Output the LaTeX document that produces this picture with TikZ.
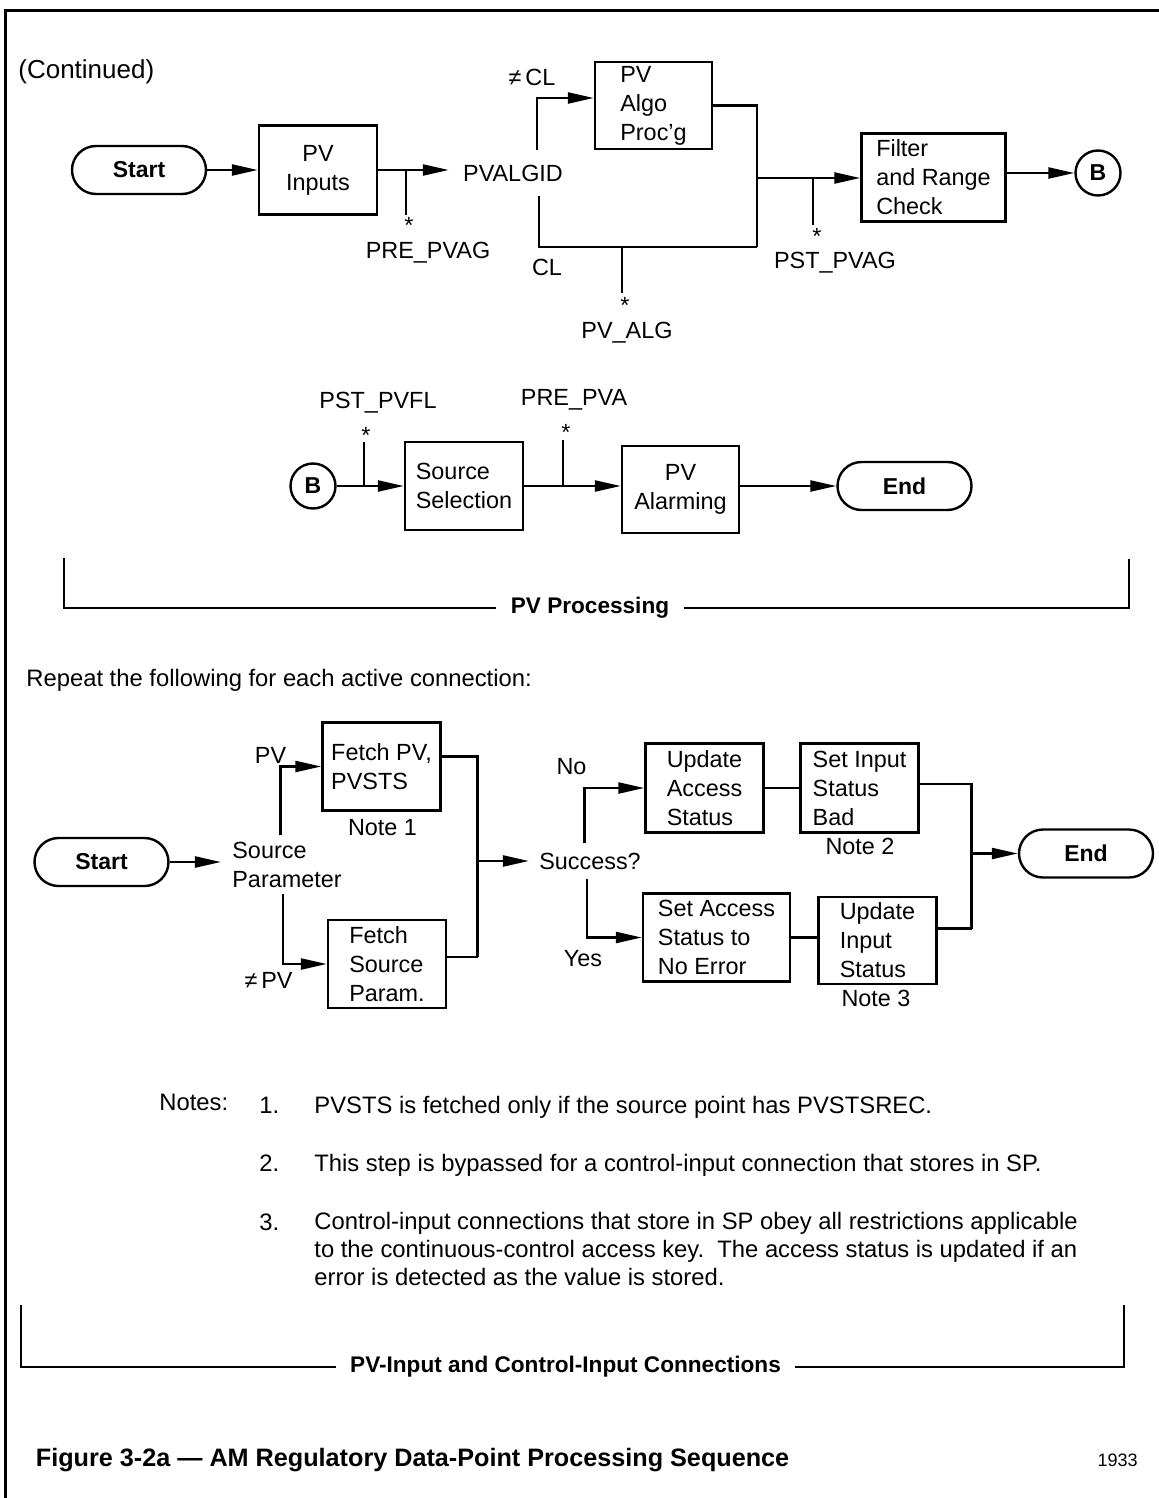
\documentclass[tikz,border=0pt]{standalone}
\usepackage{fontspec}
\setmainfont{Liberation Sans}
\usetikzlibrary{arrows.meta}

\begin{document}
\begin{tikzpicture}[x=0.5pt, y=-0.5pt,
    font=\fontsize{11.7}{14.5}\selectfont,
    procbox/.style 2 args={draw, line width=1.2pt, align=left, inner sep=0pt, minimum width=#1, minimum height=#2},
    term/.style={draw, line width=1.2pt, rounded corners=12pt, minimum width=67pt, minimum height=24pt, font=\fontsize{11.5}{14}\selectfont\bfseries},
    conn/.style={draw, circle, line width=1.2pt, minimum size=22.5pt, inner sep=0pt, font=\fontsize{11.5}{14}\selectfont\bfseries},
    flow/.style={line width=1.2pt, -{Triangle[length=13pt,width=5.5pt]}},
    wire/.style={line width=1.2pt},
    lbl/.style={inner sep=0pt},
    astx/.style={inner sep=0pt, anchor=base},
    brace/.style={line width=1pt},
    notetext/.style={inner sep=0pt, font=\fontsize{11.9}{14.2}\selectfont},
    heading/.style={font=\fontsize{11.3}{14}\selectfont\bfseries, inner xsep=7pt}]

    \useasboundingbox (0,0) rectangle (1159,1498);

    % Frame
    \draw[line width=1.5pt] (5,1498) -- (5,11) -- (1159,11);
    \node[anchor=west, inner sep=0pt, font=\fontsize{13}{15}\selectfont] (cont) at (18,72) {(Continued)};

    % PV processing, first row
    \node[term] (start1) at (139,170) {Start};
    \node[procbox={59pt}{44.5pt}, align=center] (pvin) at (318,170) {PV\\Inputs};
    \node[inner sep=7pt] (algid) at (513,173) {PVALGID};
    \draw[flow] (start1) -- (pvin);
    \draw[flow] (pvin) -- (algid.west |- pvin);

    \coordinate (j1) at (406,170);
    \coordinate (t1) at (406,215);
    \draw[wire] (j1) -- (t1);
    \node[astx] (s1) at (409,234) {*};
    \node[lbl] (prepvag) at (428,253) {PRE\_PVAG};

    % Branches on PVALGID
    \node[procbox={58.5pt}{43.5pt}] (pvalgo) at (653.5,105.5) {PV\\Algo\\Proc'g};
    \coordinate (up1) at (537,98);
    \draw[flow] (algid.north -| up1) -- (up1) -- (up1 -| pvalgo.west);
    \node[lbl] (necl) at (532,77) {≠\,CL};
    \coordinate (dn1) at (539,247);
    \coordinate (mg1) at (757,247);
    \draw[wire] (algid.south -| dn1) -- (dn1) -- (mg1);
    \node[lbl] (cl) at (547,267) {CL};
    \draw[wire] (pvalgo.east) -| (mg1);

    \coordinate (j3) at (622,247);
    \coordinate (t3) at (622,293);
    \draw[wire] (j3) -- (t3);
    \node[astx] (s3) at (625,314) {*};
    \node[lbl] (pvalg) at (627,333) {PV\_ALG};

    \node[procbox={72pt}{44pt}] (filter) at (933.5,177.5) {Filter\\and Range\\Check};
    \coordinate (mg0) at (757,178);
    \draw[flow] (mg0) -- (filter.west |- mg0);
    \coordinate (j2) at (813,178);
    \coordinate (t2) at (813,225);
    \draw[wire] (j2) -- (t2);
    \node[astx] (s2) at (817,244) {*};
    \node[lbl] (pstpvag) at (835,263) {PST\_PVAG};

    \node[conn] (b1) at (1098,173) {B};
    \draw[flow] (filter.east |- b1) -- (b1);

    % PV processing, second row
    \node[conn] (b2) at (313,486) {B};
    \node[procbox={59pt}{44pt}] (srcsel) at (464,486) {Source\\Selection};
    \draw[flow] (b2) -- (srcsel);
    \coordinate (j4) at (364,486);
    \coordinate (t4) at (364,442);
    \draw[wire] (j4) -- (t4);
    \node[astx] (s4) at (366,443) {*};
    \node[lbl] (pstpvfl) at (378,403) {PST\_PVFL};

    \node[procbox={58.5pt}{43.5pt}, align=center] (alarm) at (680.5,489.5) {PV\\Alarming};
    \draw[flow] (srcsel.east) -- (srcsel.east -| alarm.west);
    \coordinate (j5) at (563,486);
    \coordinate (t5) at (563,440);
    \draw[wire] (j5) -- (t5);
    \node[astx] (s5) at (566,440) {*};
    \node[lbl] (prepva) at (574,400) {PRE\_PVA};

    \node[term] (end1) at (904.5,486) {End};
    \draw[flow] (end1 -| alarm.east) -- (end1);

    % PV Processing bracket
    \node[heading] (pvproc) at (590,608) {PV Processing};
    \coordinate (bk1a) at (64,558);
    \coordinate (bk1b) at (64,608);
    \coordinate (bk1c) at (1128.5,608);
    \coordinate (bk1d) at (1128.5,559);
    \draw[brace] (bk1a) -- (bk1b) -- (pvproc.west);
    \draw[brace] (pvproc.east) -- (bk1c) -- (bk1d);

    \node[notetext, anchor=west] (repeat) at (26,680) {Repeat the following for each active connection:};

    % Connections
    \node[term] (start2) at (101.5,862) {Start};
    \node[lbl, align=left, inner xsep=5.5pt, inner ysep=3pt] (srcpar) at (287,864.5) {Source\\Parameter};
    \draw[flow] (start2) -- (start2 -| srcpar.west);

    \node[procbox={59pt}{44pt}] (fetchpv) at (381.5,766.5) {Fetch PV,\\PVSTS};
    \node[lbl] (note1) at (382.5,828) {Note 1};
    \coordinate (u2) at (280.5,770);
    \draw[flow] (srcpar.north -| u2) |- (fetchpv.west);
    \node[lbl] (pvlbl) at (270.5,755) {PV};

    \node[procbox={59pt}{44pt}] (fetchsrc) at (387,964) {Fetch\\Source\\Param.};
    \coordinate (d2) at (283,959);
    \draw[flow] (srcpar.south -| d2) |- (fetchsrc.west);
    \node[lbl] (nepv) at (268.5,980) {≠\,PV};

    \coordinate (m2b) at (477.5,957);
    \coordinate (m2m) at (477.5,861);
    \draw[wire] ([yshift=5pt]fetchpv.east) -| (m2b);
    \draw[wire] ([yshift=3.5pt]fetchsrc.east) -- (m2b);
    \node[lbl, inner xsep=5pt, inner ysep=4.5pt] (success) at (590,861) {Success?};
    \draw[flow] (m2m) -- (success.west);

    \node[procbox={59pt}{44.5pt}] (updacc) at (704.5,788) {Update\\Access\\Status};
    \node[procbox={59pt}{44.5pt}] (setbad) at (859.5,788) {Set Input\\Status\\Bad};
    \node[lbl] (note2) at (860,846.5) {Note 2};
    \coordinate (u3) at (584.5,789);
    \draw[flow] (success.north -| u3) |- (updacc.west);
    \node[lbl] (no) at (571.5,766.5) {No};
    \draw[wire] (updacc) -- (setbad);

    \node[procbox={73.5pt}{44pt}] (setacc) at (716.5,937.5) {Set Access\\Status to\\No Error};
    \node[procbox={59pt}{43.5pt}] (updinp) at (877.5,940.5) {Update\\Input\\Status};
    \node[lbl] (note3) at (876,998.5) {Note 3};
    \coordinate (d3) at (587,936);
    \draw[flow] (success.south -| d3) |- (setacc.west);
    \node[lbl] (yes) at (583,959) {Yes};
    \draw[wire] (setacc.east) -- (setacc.east -| updinp.west);

    \coordinate (m3b) at (971.5,928.5);
    \coordinate (m3m) at (971.5,853.5);
    \draw[wire] ([yshift=2pt]setbad.east) -| (m3b);
    \draw[wire] (updinp.east |- m3b) -- (m3b);
    \node[term] (end2) at (1086,853.5) {End};
    \draw[flow] (m3m) -- (end2);

    % Notes
    \node[notetext, anchor=base west] (notes) at (159,1110) {Notes:};
    \node[notetext, anchor=base west] (num1) at (259,1113) {1.};
    \node[notetext, anchor=base west] (txt1) at (314,1113) {PVSTS is fetched only if the source point has PVSTSREC.};
    \node[notetext, anchor=base west] (num2) at (259,1171.5) {2.};
    \node[notetext, anchor=base west] (txt2) at (314,1171.5) {This step is bypassed for a control-input connection that stores in SP.};
    \node[notetext, anchor=base west] (num3) at (259,1230.5) {3.};
    \node[notetext, anchor=north west, align=left] (txt3) at (314,1211.5) {Control-input connections that store in SP obey all restrictions applicable\\to the continuous-control access key.\ \ The access status is updated if an\\error is detected as the value is stored.};

    % Connections bracket
    \node[heading] (pvinput) at (565.5,1366.5) {PV-Input and Control-Input Connections};
    \coordinate (bk2a) at (20.5,1305);
    \coordinate (bk2b) at (20.5,1366.5);
    \coordinate (bk2c) at (1123.5,1366.5);
    \coordinate (bk2d) at (1123.5,1305);
    \draw[brace] (bk2a) -- (bk2b) -- (pvinput.west);
    \draw[brace] (pvinput.east) -- (bk2c) -- (bk2d);

    % Caption
    \node[anchor=west, inner sep=0pt, font=\fontsize{12.6}{15}\selectfont\bfseries] (title) at (35.5,1460) {Figure 3-2a — AM Regulatory Data-Point Processing Sequence};
    \node[anchor=east, inner sep=0pt, font=\fontsize{9}{11}\selectfont] (fignum) at (1138,1460) {1933};
\end{tikzpicture}
\end{document}
